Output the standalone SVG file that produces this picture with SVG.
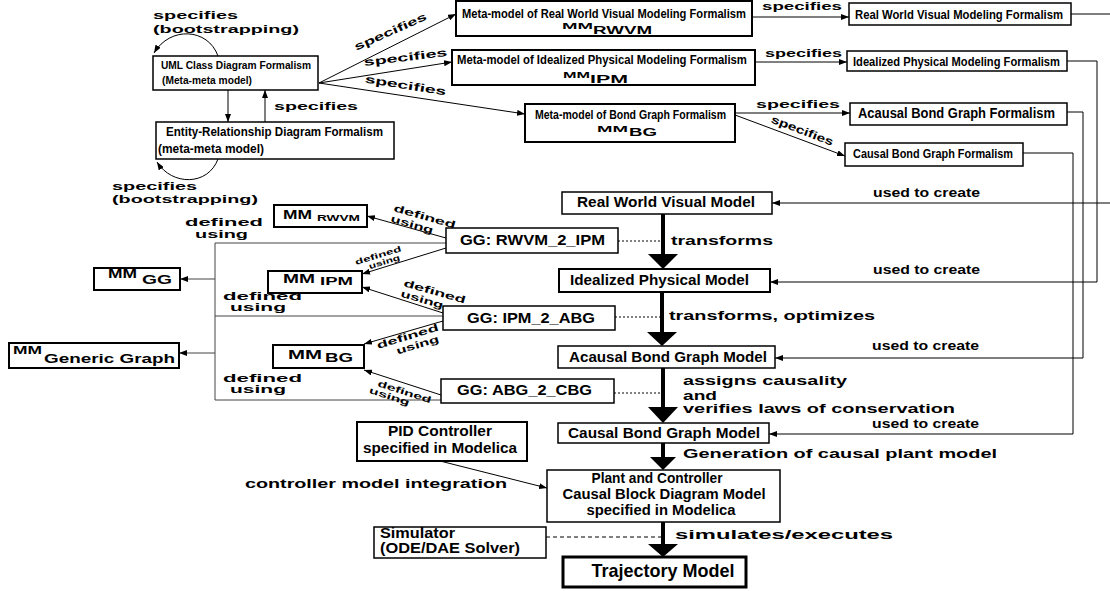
<svg xmlns="http://www.w3.org/2000/svg" width="1110" height="591" viewBox="0 0 1110 591">
<defs>
<marker id="ah" viewBox="0 0 8 6" refX="8" refY="3" markerWidth="8" markerHeight="6" markerUnits="userSpaceOnUse" orient="auto"><path d="M0,0 L8,3 L0,6 z" fill="#000"/></marker>
</defs>
<style>
.b{fill:#fff;stroke:#000;stroke-width:1.5}
.b2{fill:#fff;stroke:#000;stroke-width:2}
.b3{fill:#fff;stroke:#000;stroke-width:3}
text{font-family:"Liberation Sans",Arial,Helvetica,sans-serif;font-weight:bold;fill:#000}
.ln{fill:none;stroke:#000;stroke-width:1}
.lg{fill:none;stroke:#444;stroke-width:1}
.th{stroke:#000;stroke-width:4}
.dot{stroke:#000;stroke-width:1;stroke-dasharray:2,2}
.dash{stroke:#000;stroke-width:1;stroke-dasharray:4,3}
.l{font-size:11px}
.m{font-size:12px}
.u{font-size:13px}
</style>

<g id="connectors">
  <line class="ln" x1="228" y1="90" x2="228" y2="122" marker-end="url(#ah)"/>
  <line class="ln" x1="265" y1="122" x2="265" y2="90" marker-end="url(#ah)"/>
  <path class="ln" d="M218,56 C208,28 170,26 154,53" marker-end="url(#ah)"/>
  <path class="ln" d="M218,159 C208,186 172,186 157,162" marker-end="url(#ah)"/>
  <line class="ln" x1="319" y1="83" x2="456" y2="14" marker-end="url(#ah)"/>
  <line class="ln" x1="319" y1="83" x2="452" y2="62" marker-end="url(#ah)"/>
  <line class="ln" x1="319" y1="83" x2="525" y2="114" marker-end="url(#ah)"/>
  <line class="ln" x1="752" y1="17" x2="849" y2="17" marker-end="url(#ah)"/>
  <line class="ln" x1="755" y1="62" x2="847" y2="62" marker-end="url(#ah)"/>
  <line class="ln" x1="735" y1="113" x2="850" y2="113" marker-end="url(#ah)"/>
  <line class="ln" x1="735" y1="115" x2="845" y2="156" marker-end="url(#ah)"/>
  <path class="ln" d="M1071,14 H1112 V203 H772" marker-end="url(#ah)"/>
  <path class="ln" d="M1067,61 H1097 V282 H770" marker-end="url(#ah)"/>
  <path class="ln" d="M1067,112 H1083 V358 H775" marker-end="url(#ah)"/>
  <path class="ln" d="M1023,153 H1073 V434 H769" marker-end="url(#ah)"/>
  <line class="th" x1="663" y1="214" x2="663" y2="255"/>
  <polygon points="648,254 678,254 663,269" fill="#000"/>
  <line class="th" x1="662" y1="292" x2="662" y2="333"/>
  <polygon points="647,332 677,332 662,346" fill="#000"/>
  <line class="th" x1="663" y1="368" x2="663" y2="408"/>
  <polygon points="648,407 678,407 663,423" fill="#000"/>
  <line class="th" x1="663" y1="443" x2="663" y2="458"/>
  <polygon points="650,457 676,457 663,470" fill="#000"/>
  <line class="th" x1="663" y1="522" x2="663" y2="545"/>
  <polygon points="648,544 678,544 663,557" fill="#000"/>
  <line class="dot" x1="618" y1="241" x2="663" y2="241"/>
  <line class="dot" x1="615" y1="317" x2="662" y2="317"/>
  <line class="dot" x1="614" y1="393" x2="663" y2="393"/>
  <line class="dash" x1="546" y1="537" x2="663" y2="537"/>
  <line class="ln" x1="440" y1="461" x2="547" y2="488" marker-end="url(#ah)"/>
  <path class="lg" d="M446,243 H215 V400 H441 M215,316 H443"/>
  <line class="lg" x1="215" y1="279" x2="180" y2="279" marker-end="url(#ah)"/>
  <line class="lg" x1="215" y1="353" x2="179" y2="353" marker-end="url(#ah)"/>
  <line class="ln" x1="446" y1="238" x2="367" y2="216" marker-end="url(#ah)"/>
  <line class="ln" x1="446" y1="248" x2="362" y2="274" marker-end="url(#ah)"/>
  <line class="ln" x1="443" y1="313" x2="362" y2="287" marker-end="url(#ah)"/>
  <line class="ln" x1="443" y1="321" x2="364" y2="344" marker-end="url(#ah)"/>
  <line class="ln" x1="441" y1="395" x2="364" y2="370" marker-end="url(#ah)"/>
</g>

<g id="labels">
  <text class="l" x="153" y="19" textLength="85" lengthAdjust="spacingAndGlyphs">specifies</text>
  <text class="l" x="153" y="33" textLength="146" lengthAdjust="spacingAndGlyphs">(bootstrapping)</text>
  <text class="l" x="274" y="110" textLength="84" lengthAdjust="spacingAndGlyphs">specifies</text>
  <text class="l" x="112" y="190" textLength="85" lengthAdjust="spacingAndGlyphs">specifies</text>
  <text class="l" x="112" y="203" textLength="146" lengthAdjust="spacingAndGlyphs">(bootstrapping)</text>
  <text class="l" text-anchor="middle" transform="translate(392,35) rotate(-24)" textLength="78" lengthAdjust="spacingAndGlyphs">specifies</text>
  <text class="l" text-anchor="middle" transform="translate(406,61) rotate(-7)" textLength="84" lengthAdjust="spacingAndGlyphs">specifies</text>
  <text class="l" text-anchor="middle" transform="translate(405,89) rotate(9)" textLength="82" lengthAdjust="spacingAndGlyphs">specifies</text>
  <text class="l" x="762" y="10" textLength="80" lengthAdjust="spacingAndGlyphs">specifies</text>
  <text class="l" x="765" y="57" textLength="77" lengthAdjust="spacingAndGlyphs">specifies</text>
  <text class="l" x="756" y="108" textLength="84" lengthAdjust="spacingAndGlyphs">specifies</text>
  <text class="l" text-anchor="middle" transform="translate(801,134) rotate(21)" textLength="66" lengthAdjust="spacingAndGlyphs">specifies</text>
  <text class="u" x="873" y="197" textLength="107" lengthAdjust="spacingAndGlyphs">used to create</text>
  <text class="u" x="873" y="274" textLength="107" lengthAdjust="spacingAndGlyphs">used to create</text>
  <text class="u" x="872" y="350" textLength="107" lengthAdjust="spacingAndGlyphs">used to create</text>
  <text class="u" x="872" y="428" textLength="107" lengthAdjust="spacingAndGlyphs">used to create</text>
  <text class="m" x="671" y="245" textLength="102" lengthAdjust="spacingAndGlyphs">transforms</text>
  <text class="m" x="669" y="320" textLength="206" lengthAdjust="spacingAndGlyphs">transforms, optimizes</text>
  <text class="m" x="683" y="385" textLength="164" lengthAdjust="spacingAndGlyphs">assigns causality</text>
  <text class="m" x="683" y="400" textLength="34" lengthAdjust="spacingAndGlyphs">and</text>
  <text class="m" x="683" y="413" textLength="272" lengthAdjust="spacingAndGlyphs">verifies laws of conservation</text>
  <text class="m" x="683" y="458" textLength="314" lengthAdjust="spacingAndGlyphs">Generation of causal plant model</text>
  <text class="m" x="245" y="488" textLength="262" lengthAdjust="spacingAndGlyphs">controller model integration</text>
  <text class="m" x="675" y="539" textLength="218" lengthAdjust="spacingAndGlyphs">simulates/executes</text>
  <text class="l" x="185" y="226" textLength="78" lengthAdjust="spacingAndGlyphs">defined</text>
  <text class="l" x="195" y="238" textLength="53" lengthAdjust="spacingAndGlyphs">using</text>
  <text class="l" x="223" y="300" textLength="79" lengthAdjust="spacingAndGlyphs">defined</text>
  <text class="l" x="230" y="311" textLength="56" lengthAdjust="spacingAndGlyphs">using</text>
  <text class="l" x="223" y="382" textLength="79" lengthAdjust="spacingAndGlyphs">defined</text>
  <text class="l" x="230" y="393" textLength="56" lengthAdjust="spacingAndGlyphs">using</text>
  <g transform="translate(393,211) rotate(16)">
    <text style="font-size:10px" x="0" y="0" textLength="64" lengthAdjust="spacingAndGlyphs">defined</text>
    <text style="font-size:10px" x="0" y="11" textLength="44" lengthAdjust="spacingAndGlyphs">using</text>
  </g>
  <g transform="translate(356,265) rotate(-17)">
    <text style="font-size:8px" x="0" y="0" textLength="48" lengthAdjust="spacingAndGlyphs">defined</text>
    <text style="font-size:8px" x="12" y="8" textLength="32" lengthAdjust="spacingAndGlyphs">using</text>
  </g>
  <g transform="translate(403,286) rotate(16)">
    <text style="font-size:10px" x="0" y="0" textLength="64" lengthAdjust="spacingAndGlyphs">defined</text>
    <text style="font-size:10px" x="0" y="11" textLength="44" lengthAdjust="spacingAndGlyphs">using</text>
  </g>
  <g transform="translate(378,349) rotate(-17)">
    <text style="font-size:10px" x="0" y="0" textLength="64" lengthAdjust="spacingAndGlyphs">defined</text>
    <text style="font-size:10px" x="17" y="11" textLength="44" lengthAdjust="spacingAndGlyphs">using</text>
  </g>
  <g transform="translate(377,386) rotate(18)">
    <text style="font-size:9px" x="0" y="0" textLength="56" lengthAdjust="spacingAndGlyphs">defined</text>
    <text style="font-size:9px" x="-6" y="9" textLength="42" lengthAdjust="spacingAndGlyphs">using</text>
  </g>
</g>

<g id="uml">
  <rect class="b" x="153" y="56" width="165" height="34"/>
  <text style="font-size:11.5px" x="161" y="69" textLength="150" lengthAdjust="spacingAndGlyphs">UML Class Diagram Formalism</text>
  <text style="font-size:11.5px" x="162" y="84" textLength="90" lengthAdjust="spacingAndGlyphs">(Meta-meta model)</text>
</g>
<g id="er">
  <rect class="b" x="156" y="122" width="238" height="37"/>
  <text style="font-size:13.5px" x="166" y="136" textLength="217" lengthAdjust="spacingAndGlyphs">Entity-Relationship Diagram Formalism</text>
  <text style="font-size:13.5px" x="158" y="153" textLength="106" lengthAdjust="spacingAndGlyphs">(meta-meta model)</text>
</g>
<g id="mm-rwvm-top">
  <rect class="b2" x="456" y="1" width="296" height="35"/>
  <text style="font-size:12.5px" transform="translate(462,18) scale(0.89,1)" x="0" y="0" textLength="319" lengthAdjust="spacingAndGlyphs">Meta-model of Real World Visual Modeling Formalism</text>
  <text style="font-size:9px" x="562" y="29" textLength="31" lengthAdjust="spacingAndGlyphs">MM</text>
  <text style="font-size:10px" x="593" y="34" textLength="59" lengthAdjust="spacingAndGlyphs">RWVM</text>
</g>
<g id="mm-ipm-top">
  <rect class="b2" x="452" y="50" width="303" height="35"/>
  <text style="font-size:12.5px" transform="translate(457,64) scale(0.906,1)" x="0" y="0" textLength="320" lengthAdjust="spacingAndGlyphs">Meta-model of Idealized Physical Modeling Formalism</text>
  <text style="font-size:9px" x="563" y="78" textLength="27" lengthAdjust="spacingAndGlyphs">MM</text>
  <text style="font-size:10px" x="590" y="83" textLength="38" lengthAdjust="spacingAndGlyphs">IPM</text>
</g>
<g id="mm-bg-top">
  <rect class="b2" x="525" y="104" width="210" height="38"/>
  <text style="font-size:12.5px" x="535" y="119" textLength="191" lengthAdjust="spacingAndGlyphs">Meta-model of Bond Graph Formalism</text>
  <text style="font-size:9px" x="597" y="132" textLength="31" lengthAdjust="spacingAndGlyphs">MM</text>
  <text style="font-size:10px" x="629" y="136" textLength="28" lengthAdjust="spacingAndGlyphs">BG</text>
</g>
<g id="rwvm-formalism">
  <rect class="b" x="849" y="3" width="222" height="22"/>
  <text style="font-size:13px" x="855" y="19" textLength="208" lengthAdjust="spacingAndGlyphs">Real World Visual Modeling Formalism</text>
</g>
<g id="ipm-formalism">
  <rect class="b" x="847" y="51" width="220" height="20"/>
  <text style="font-size:13px" x="853" y="66" textLength="207" lengthAdjust="spacingAndGlyphs">Idealized Physical Modeling Formalism</text>
</g>
<g id="abg-formalism">
  <rect class="b" x="850" y="103" width="217" height="22"/>
  <text style="font-size:14px" x="858" y="118" textLength="197" lengthAdjust="spacingAndGlyphs">Acausal Bond Graph Formalism</text>
</g>
<g id="cbg-formalism">
  <rect class="b" x="845" y="143" width="178" height="23"/>
  <text style="font-size:13.5px" x="853" y="158" textLength="160" lengthAdjust="spacingAndGlyphs">Causal Bond Graph Formalism</text>
</g>
<g id="rwv-model">
  <rect class="b" x="562" y="192" width="210" height="22"/>
  <text style="font-size:14px" x="577" y="207" textLength="178" lengthAdjust="spacingAndGlyphs">Real World Visual Model</text>
</g>
<g id="ip-model">
  <rect class="b2" x="559" y="269" width="211" height="23"/>
  <text style="font-size:14px" x="570" y="285" textLength="179" lengthAdjust="spacingAndGlyphs">Idealized Physical Model</text>
</g>
<g id="abg-model">
  <rect class="b" x="558" y="346" width="217" height="22"/>
  <text style="font-size:14px" x="569" y="362" textLength="198" lengthAdjust="spacingAndGlyphs">Acausal Bond Graph Model</text>
</g>
<g id="cbg-model">
  <rect class="b" x="558" y="423" width="211" height="20"/>
  <text style="font-size:14px" x="568" y="438" textLength="192" lengthAdjust="spacingAndGlyphs">Causal Bond Graph Model</text>
</g>
<g id="plant">
  <rect class="b" x="547" y="470" width="233" height="52"/>
  <text style="font-size:14px" x="657" y="483" text-anchor="middle" textLength="131" lengthAdjust="spacingAndGlyphs">Plant and Controller</text>
  <text style="font-size:14px" x="664" y="499" text-anchor="middle" textLength="203" lengthAdjust="spacingAndGlyphs">Causal Block Diagram Model</text>
  <text style="font-size:14px" x="661" y="515" text-anchor="middle" textLength="149" lengthAdjust="spacingAndGlyphs">specified in Modelica</text>
</g>
<g id="pid">
  <rect class="b2" x="357" y="422" width="170" height="39"/>
  <text style="font-size:14px" x="440" y="436" text-anchor="middle" textLength="104" lengthAdjust="spacingAndGlyphs">PID Controller</text>
  <text style="font-size:14px" x="440" y="453" text-anchor="middle" textLength="154" lengthAdjust="spacingAndGlyphs">specified in Modelica</text>
</g>
<g id="simulator">
  <rect class="b" x="374" y="527" width="172" height="31"/>
  <text style="font-size:14px" x="380" y="538" textLength="75" lengthAdjust="spacingAndGlyphs">Simulator</text>
  <text style="font-size:14px" x="380" y="553" textLength="140" lengthAdjust="spacingAndGlyphs">(ODE/DAE Solver)</text>
</g>
<g id="trajectory">
  <rect class="b3" x="563" y="557" width="183" height="30"/>
  <text style="font-size:19px" x="663" y="577" text-anchor="middle" textLength="143" lengthAdjust="spacingAndGlyphs">Trajectory Model</text>
</g>
<g id="gg-rwvm">
  <rect class="b" x="446" y="228" width="172" height="25"/>
  <text style="font-size:15px" x="460" y="245" textLength="145" lengthAdjust="spacingAndGlyphs">GG: RWVM_2_IPM</text>
</g>
<g id="gg-ipm">
  <rect class="b" x="443" y="306" width="172" height="24"/>
  <text style="font-size:15px" x="467" y="323" textLength="128" lengthAdjust="spacingAndGlyphs">GG: IPM_2_ABG</text>
</g>
<g id="gg-abg">
  <rect class="b" x="441" y="379" width="173" height="24"/>
  <text style="font-size:15px" x="457" y="395" textLength="135" lengthAdjust="spacingAndGlyphs">GG: ABG_2_CBG</text>
</g>
<g id="mm-rwvm">
  <rect class="b2" x="274" y="205" width="93" height="22"/>
  <text style="font-size:12px" x="283" y="219" textLength="29" lengthAdjust="spacingAndGlyphs">MM</text>
  <text style="font-size:9px" x="317" y="221" textLength="43" lengthAdjust="spacingAndGlyphs">RWVM</text>
</g>
<g id="mm-ipm">
  <rect class="b2" x="268" y="271" width="94" height="22"/>
  <text style="font-size:12px" x="283" y="283" textLength="32" lengthAdjust="spacingAndGlyphs">MM</text>
  <text style="font-size:11px" x="320" y="285" textLength="33" lengthAdjust="spacingAndGlyphs">IPM</text>
</g>
<g id="mm-bg">
  <rect class="b2" x="273" y="345" width="91" height="23"/>
  <text style="font-size:12px" x="288" y="359" textLength="34" lengthAdjust="spacingAndGlyphs">MM</text>
  <text style="font-size:12px" x="325" y="362" textLength="28" lengthAdjust="spacingAndGlyphs">BG</text>
</g>
<g id="mm-gg">
  <rect class="b2" x="94" y="268" width="86" height="22"/>
  <text style="font-size:12px" x="108" y="278" textLength="29" lengthAdjust="spacingAndGlyphs">MM</text>
  <text style="font-size:12px" x="142" y="284" textLength="30" lengthAdjust="spacingAndGlyphs">GG</text>
</g>
<g id="mm-generic">
  <rect class="b2" x="9" y="343" width="170" height="25"/>
  <text style="font-size:11px" x="13" y="354" textLength="29" lengthAdjust="spacingAndGlyphs">MM</text>
  <text style="font-size:13px" x="44" y="363" textLength="131" lengthAdjust="spacingAndGlyphs">Generic Graph</text>
</g>
</svg>
